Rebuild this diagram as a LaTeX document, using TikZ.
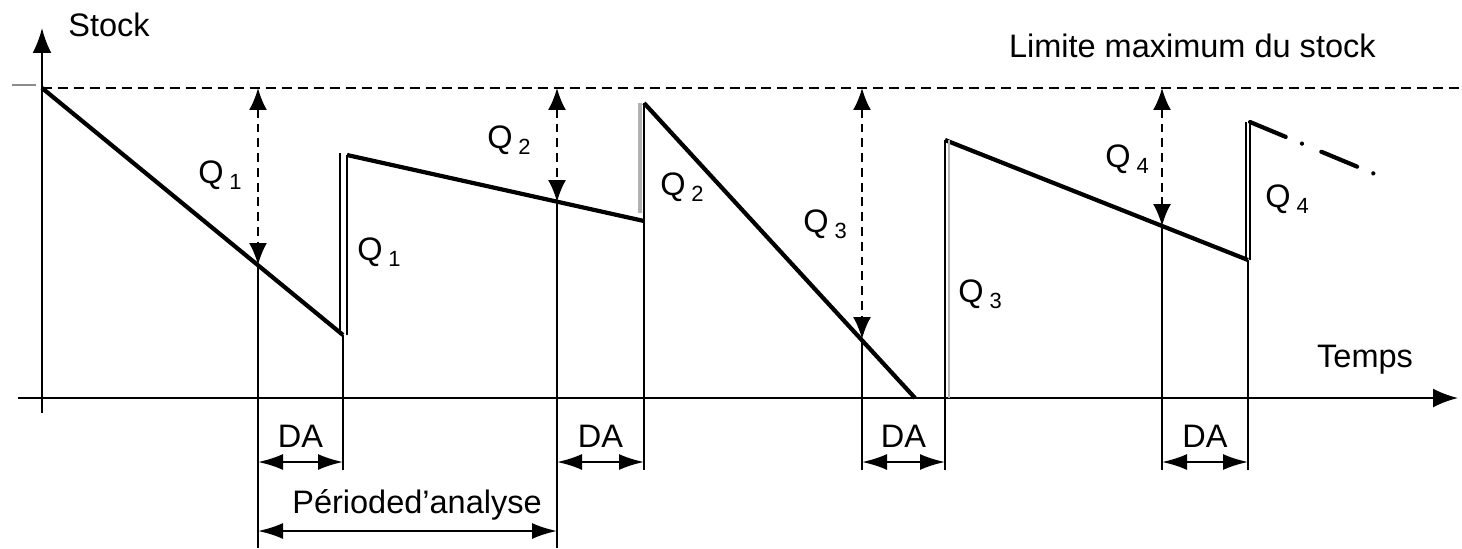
\documentclass[tikz,border=0pt]{standalone}
\usepackage{fontspec}
\setmainfont{Liberation Sans}
\usetikzlibrary{arrows.meta,calc}

\newcommand{\qlab}[1]{Q\hspace{0.18em}\raisebox{-0.35ex}{\fontsize{12.5}{14}\selectfont #1}}

\begin{document}
\begin{tikzpicture}[
		x=0.02cm, y=-0.02cm,
		>={Latex[length=0.44cm,width=0.36cm]},
		every node/.style={
			font=\fontsize{18.5}{22}\selectfont,
			inner sep=0pt
		},
		axe/.style={line width=1.3pt, ->, >={Latex[length=0.5cm,width=0.38cm]}},
		stock/.style={line width=2.4pt},
		mince/.style={line width=1.15pt},
		gris/.style={line width=1.8pt, black!30},
		limite/.style={line width=1.2pt, dash pattern=on 5.7pt off 3.4pt},
		ecart/.style={<->, line width=1.2pt, dash pattern=on 5pt off 3.4pt},
		duree/.style={<->, line width=1.2pt, >={Latex[length=0.5cm,width=0.32cm]}}
		]
		
		\useasboundingbox (0,0) rectangle (1462,548);
		
		%--------------------------------------------------
		% Axes
		%--------------------------------------------------
		
		\coordinate (xg) at (18,398);
		\coordinate (xd) at (1458,398);
		\coordinate (yb) at (42,413);
		\coordinate (yh) at (42,28);
		\draw[axe] (yb) -- (yh);
		\draw[axe] (xg) -- (xd);
		\node (stock) [anchor=base west] at (68,36) {Stock};
		\node (temps) [anchor=base] at (1365,367) {Temps};
		
		%--------------------------------------------------
		% Stock limit
		%--------------------------------------------------
		
		\coordinate (lim0) at (42,88);
		\coordinate (lim1) at (1462,88);
		\coordinate (t0) at (12,85);
		\coordinate (t1) at (36,85);
		\draw[limite] (lim0) -- (lim1);
		\draw[line width=1.3pt, black!45] (t0) -- (t1);
		\node (limite) [anchor=base east] at (1376,57) {Limite maximum du stock};
		
		%--------------------------------------------------
		% Stock curve
		%--------------------------------------------------
		
		\coordinate (c1) at (258,265);
		\coordinate (r1) at (343,335);
		\coordinate (h1) at (347,155);
		\coordinate (c2) at (557,202);
		\coordinate (r2) at (644,221);
		\coordinate (h2) at (644,103);
		\coordinate (c3) at (862,339);
		\coordinate (z3) at (915,398);
		\coordinate (r3) at (945,398);
		\coordinate (h3) at (945,140);
		\coordinate (c4) at (1162,226);
		\coordinate (r4) at (1248,260);
		\coordinate (h4) at (1250,122);
		\coordinate (suite) at (1382,177);
		
		\draw[stock] (lim0) -- (r1);
		\draw[stock] (h1) -- (r2);
		\draw[stock] (h2) -- (z3);
		\draw[stock] (h3) -- (r4);
		\draw[stock, dash pattern=on 22pt off 10pt on 0.01pt off 12pt, line cap=round] (h4) -- (suite);
		
		% deliveries
		\draw[mince] ($(r1)+(-3,0)$) -- ++(0,-182);
		\draw[mince] ($(r1)+(4,0)$) -- (h1);
		\draw[gris] ($(r2)+(-4,-8)$) -- ($(h2)+(-4,0)$);
		\draw[mince] (r2) -- (h2);
		\draw[mince] (r3) -- (h3);
		\draw[gris, line width=1.4pt] ($(r3)+(4,0)$) -- ($(h3)+(4,0)$);
		\draw[mince] ($(r4)+(-2,0)$) -- ++(0,-138);
		\draw[mince] ($(r4)+(2,0)$) -- (h4);
		
		%--------------------------------------------------
		% Orders and delays
		%--------------------------------------------------
		
		\coordinate (da) at (0,470);
		\coordinate (bord) at (0,548);
		\coordinate (fleche) at (0,462);
		\coordinate (txt) at (0,447);
		\coordinate (per) at (0,531);
		
		\foreach \i/\b in {1/bord,2/bord,3/da,4/da}
		{
			\draw[mince] (c\i) -- (c\i |- \b);
			\draw[mince] (r\i) -- (r\i |- da);
			\draw[ecart] (c\i |- lim0) -- (c\i);
			\draw[duree] (c\i |- fleche) -- (r\i |- fleche);
			\node (da\i) [anchor=base] at ($(c\i |- txt)!0.5!(r\i |- txt)$) {DA};
		}
		
		\draw[duree] (c1 |- per) -- (c2 |- per);
		\node (periode) [anchor=base] at (417,513) {Périoded’analyse};
		
		%--------------------------------------------------
		% Quantities
		%--------------------------------------------------
		
		\node (q1a) [anchor=base west] at (198,183) {\qlab{1}};
		\node (q1b) [anchor=base west] at (357,260) {\qlab{1}};
		\node (q2a) [anchor=base west] at (487,148) {\qlab{2}};
		\node (q2b) [anchor=base west] at (660,195) {\qlab{2}};
		\node (q3a) [anchor=base west] at (803,232) {\qlab{3}};
		\node (q3b) [anchor=base west] at (958,302) {\qlab{3}};
		\node (q4a) [anchor=base west] at (1105,167) {\qlab{4}};
		\node (q4b) [anchor=base west] at (1265,207) {\qlab{4}};
		
	\end{tikzpicture}
\end{document}
